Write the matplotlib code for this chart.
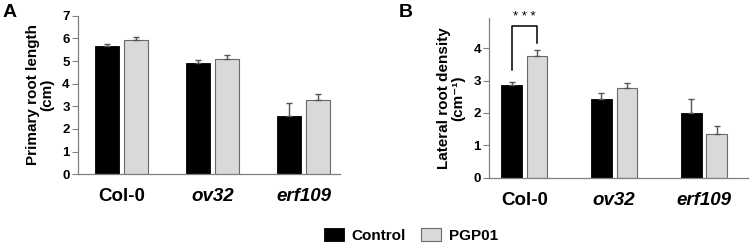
import numpy as np
import matplotlib.pyplot as plt

plt.rcParams['font.family'] = ['Liberation Sans', 'DejaVu Sans']

genotypes = ['Col-0', 'ov32', 'erf109']
tick_styles = ['normal', 'italic', 'italic']
series = ['Control', 'PGP01']

# Panel A: primary root length (cm)
length_control = [5.65, 4.93, 2.56]
length_control_err = [0.10, 0.11, 0.57]
length_pgp = [5.91, 5.07, 3.27]
length_pgp_err = [0.13, 0.19, 0.29]

# Panel B: lateral root density (cm-1)
density_control = [2.85, 2.42, 2.01]
density_control_err = [0.12, 0.19, 0.41]
density_pgp = [3.75, 2.76, 1.34]
density_pgp_err = [0.18, 0.16, 0.26]

black = '#000000'
grey = '#d9d9d9'
spine_col = '#808080'

fig = plt.figure(figsize=(7.5, 2.49), dpi=100)
axA = fig.add_axes([0.104, 0.300, 0.3493, 0.637])
axB = fig.add_axes([0.6524, 0.2863, 0.345, 0.640])


def draw(ax, ctl, ctl_err, pgp, pgp_err, width, off, xlim, ylim, yticks):
    x = np.arange(len(genotypes))
    ax.bar(x - off, ctl, width, color=black, edgecolor=black, linewidth=0.6,
           yerr=[np.zeros(3), ctl_err], ecolor='#555555',
           error_kw=dict(elinewidth=1, capsize=2.5, capthick=1), label=series[0])
    ax.bar(x + off, pgp, width, color=grey, edgecolor='#6a6a6a', linewidth=0.8,
           yerr=[np.zeros(3), pgp_err], ecolor='#555555',
           error_kw=dict(elinewidth=1, capsize=2.5, capthick=1), label=series[1])
    ax.set_xlim(*xlim)
    ax.set_ylim(*ylim)
    ax.set_yticks(yticks)
    ax.set_xticks(x)
    ax.set_xticklabels(genotypes, fontsize=13.5, fontweight='bold')
    for lbl, st in zip(ax.get_xticklabels(), tick_styles):
        lbl.set_fontstyle(st)
    ax.tick_params(axis='x', length=0, pad=10)
    ax.tick_params(axis='y', labelsize=9.5, length=4, width=0.8, color=spine_col, pad=2)
    for lbl in ax.get_yticklabels():
        lbl.set_fontweight('bold')
    for s in ['top', 'right']:
        ax.spines[s].set_visible(False)
    for s in ['left', 'bottom']:
        ax.spines[s].set_color(spine_col)
        ax.spines[s].set_linewidth(0.9)
    return x


draw(axA, length_control, length_control_err, length_pgp, length_pgp_err,
     0.265, 0.16, (-0.48, 2.40), (0, 7), range(0, 8))
axA.set_ylabel('Primary root length\n(cm)', fontsize=11, fontweight='bold',
               labelpad=6, linespacing=1.0)

xb = draw(axB, density_control, density_control_err, density_pgp, density_pgp_err,
          0.23, 0.142, (-0.39, 2.49), (0, 4.92), range(0, 5))
axB.set_ylabel('Lateral root density\n(cm\u207b\u00b9)', fontsize=11,
               fontweight='bold', labelpad=6, linespacing=1.0)

# significance bracket
x1, x2 = xb[0] - 0.142, xb[0] + 0.142
axB.plot([x1, x1, x2, x2], [3.32, 4.69, 4.69, 4.15], color='black', lw=1.1,
         clip_on=False)
axB.text((x1 + x2) / 2, 4.78, '* * *', ha='center', va='bottom', fontsize=9.5,
         clip_on=False)

fig.text(0.003, 0.985, 'A', fontsize=14, fontweight='bold', va='top')
fig.text(0.532, 0.985, 'B', fontsize=14, fontweight='bold', va='top')

handles, labels = axA.get_legend_handles_labels()
fig.legend(handles, labels, loc='center', bbox_to_anchor=(0.548, 0.055), ncol=2,
           frameon=False, prop=dict(size=11, weight='bold'), handlelength=1.3,
           handleheight=1.0, handletextpad=0.5, columnspacing=1.0)

fig.savefig('out.png', dpi=100)
